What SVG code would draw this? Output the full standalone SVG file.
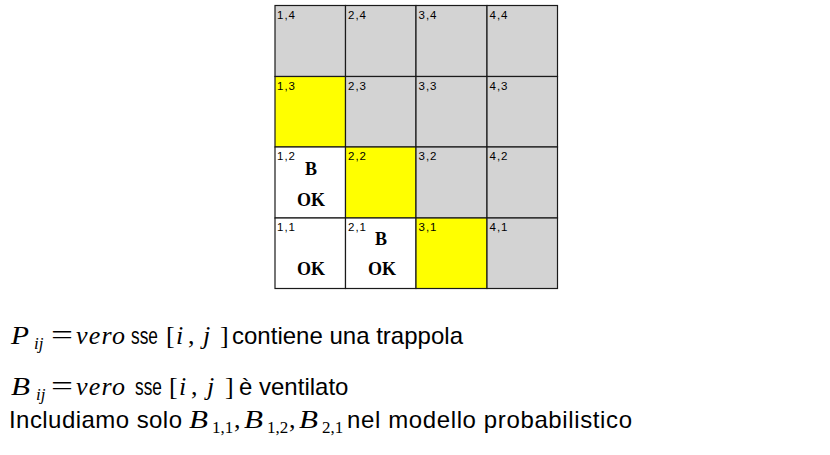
<svg xmlns="http://www.w3.org/2000/svg" width="830" height="455" viewBox="0 0 830 455">
<style>
.cell{stroke:#1a1a1a;stroke-width:1.2}
.g{fill:#d3d3d3}
.y{fill:#ffff00}
.w{fill:#ffffff}
.lab{font-family:"Liberation Sans",Arial,sans-serif;font-size:11.5px;fill:#000}
.big{font-family:"Liberation Serif","Times New Roman",serif;font-size:18px;font-weight:bold;fill:#000;text-anchor:middle}
.txt{font-family:"Liberation Sans",Arial,sans-serif;font-size:24px;fill:#000}
.m{font-family:"Liberation Serif","Times New Roman",serif;font-style:italic;font-size:26px;fill:#000}
.mr{font-family:"Liberation Serif","Times New Roman",serif;font-size:26px;fill:#000}
.eq{font-family:"Liberation Serif","Times New Roman",serif;font-size:28px;fill:#000}
.sub{font-family:"Liberation Serif","Times New Roman",serif;font-style:italic;font-size:17px;fill:#000}
.subr{font-family:"Liberation Serif","Times New Roman",serif;font-size:17px;fill:#000}
</style>
<rect width="830" height="455" fill="#fff"/>
<g id="grid">
<g id="c14"><rect class="cell g" x="275" y="5.5" width="70.5" height="71"/><text class="lab" x="277" y="18.5" textLength="18">1,4</text></g>
<g id="c24"><rect class="cell g" x="345.5" y="5.5" width="70.5" height="71"/><text class="lab" x="348" y="18.5" textLength="18">2,4</text></g>
<g id="c34"><rect class="cell g" x="416" y="5.5" width="71" height="71"/><text class="lab" x="418.5" y="18.5" textLength="18">3,4</text></g>
<g id="c44"><rect class="cell g" x="487" y="5.5" width="70.5" height="71"/><text class="lab" x="489.5" y="18.5" textLength="18">4,4</text></g>

<g id="c13"><rect class="cell y" x="275" y="76.5" width="70.5" height="70.5"/><text class="lab" x="277" y="89.5" textLength="18">1,3</text></g>
<g id="c23"><rect class="cell g" x="345.5" y="76.5" width="70.5" height="70.5"/><text class="lab" x="348" y="89.5" textLength="18">2,3</text></g>
<g id="c33"><rect class="cell g" x="416" y="76.5" width="71" height="70.5"/><text class="lab" x="418.5" y="89.5" textLength="18">3,3</text></g>
<g id="c43"><rect class="cell g" x="487" y="76.5" width="70.5" height="70.5"/><text class="lab" x="489.5" y="89.5" textLength="18">4,3</text></g>

<g id="c12"><rect class="cell w" x="275" y="147" width="70.5" height="71"/><text class="lab" x="277" y="160" textLength="18">1,2</text><text class="big" x="311" y="175">B</text><text class="big" x="311" y="205.5">OK</text></g>
<g id="c22"><rect class="cell y" x="345.5" y="147" width="70.5" height="71"/><text class="lab" x="348" y="160" textLength="18">2,2</text></g>
<g id="c32"><rect class="cell g" x="416" y="147" width="71" height="71"/><text class="lab" x="418.5" y="160" textLength="18">3,2</text></g>
<g id="c42"><rect class="cell g" x="487" y="147" width="70.5" height="71"/><text class="lab" x="489.5" y="160" textLength="18">4,2</text></g>

<g id="c11"><rect class="cell w" x="275" y="218" width="70.5" height="70.5"/><text class="lab" x="277" y="231" textLength="18">1,1</text><text class="big" x="311" y="275">OK</text></g>
<g id="c21"><rect class="cell w" x="345.5" y="218" width="70.5" height="70.5"/><text class="lab" x="348" y="231" textLength="18">2,1</text><text class="big" x="381" y="245">B</text><text class="big" x="382" y="275">OK</text></g>
<g id="c31"><rect class="cell y" x="416" y="218" width="71" height="70.5"/><text class="lab" x="418.5" y="231" textLength="18">3,1</text></g>
<g id="c41"><rect class="cell g" x="487" y="218" width="70.5" height="70.5"/><text class="lab" x="489.5" y="231" textLength="18">4,1</text></g>
</g>

<g id="line1">
<text class="m" x="11" y="344" textLength="18" lengthAdjust="spacingAndGlyphs">P</text>
<text class="sub" x="34" y="349">ij</text>
<text class="eq" x="51" y="344" textLength="22" lengthAdjust="spacingAndGlyphs">=</text>
<text class="m" x="76" y="344" textLength="49">vero</text>
<text class="txt" transform="translate(131,344) scale(0.72,1)">sse</text>
<text class="mr" x="166" y="344">[</text>
<text class="m" x="176" y="344">i</text>
<text class="mr" x="188" y="344">,</text>
<text class="m" x="203" y="344">j</text>
<text class="mr" x="220" y="344">]</text>
<text class="txt" x="232" y="344" textLength="231">contiene una trappola</text>
</g>

<g id="line2">
<text class="m" x="11" y="395" textLength="19" lengthAdjust="spacingAndGlyphs">B</text>
<text class="sub" x="36" y="400">ij</text>
<text class="eq" x="51" y="395" textLength="22" lengthAdjust="spacingAndGlyphs">=</text>
<text class="m" x="76" y="395" textLength="49">vero</text>
<text class="txt" transform="translate(135,395) scale(0.72,1)">sse</text>
<text class="mr" x="169" y="395">[</text>
<text class="m" x="179" y="395">i</text>
<text class="mr" x="191" y="395">,</text>
<text class="m" x="207" y="395">j</text>
<text class="mr" x="225" y="395">]</text>
<text class="txt" x="239" y="395">è ventilato</text>
</g>

<g id="line3">
<text class="txt" x="9" y="428" textLength="173">Includiamo solo</text>
<text class="m" x="189" y="428" textLength="19" lengthAdjust="spacingAndGlyphs">B</text><text class="subr" x="212" y="433">1,1</text><text class="mr" x="234" y="428">,</text>
<text class="m" x="244" y="428" textLength="19" lengthAdjust="spacingAndGlyphs">B</text><text class="subr" x="267" y="433">1,2</text><text class="mr" x="289" y="428">,</text>
<text class="m" x="299" y="428" textLength="19" lengthAdjust="spacingAndGlyphs">B</text><text class="subr" x="322" y="433">2,1</text>
<text class="txt" x="347" y="428" textLength="285">nel modello probabilistico</text>
</g>
</svg>
